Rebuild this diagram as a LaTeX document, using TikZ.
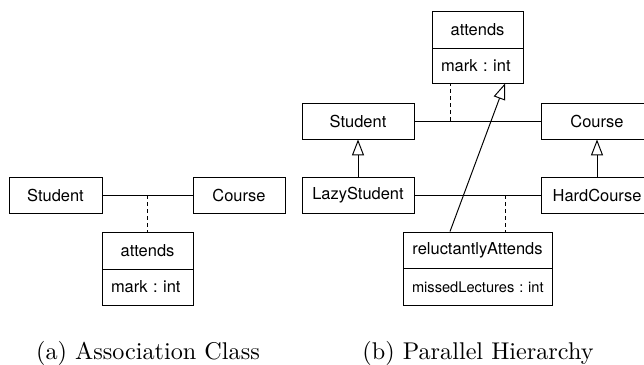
\documentclass[tikz,border=0pt]{standalone}
\usepackage{fontspec}
\newfontfamily\umlfont{TeX Gyre Heros}
\usetikzlibrary{arrows.meta,calc}
\newdimen\px \px=0.4132pt
\begin{document}
\frenchspacing
\begin{tikzpicture}[x=\px, y=-\px,
  cls/.style={draw, inner sep=0pt, font={\umlfont\fontsize{6.8}{8}\selectfont\frenchspacing}, minimum height=36\px},
  attr/.style={cls, align=left, inner xsep=3.72pt},
  smallattr/.style={attr, font={\umlfont\fontsize{6.05}{7.5}\selectfont\frenchspacing}},
  gen/.style={-{Triangle[open,length=6.6pt,width=5pt]}},
  dassoc/.style={dash pattern=on 1.65pt off 1.25pt},
  capt/.style={anchor=base, inner sep=0pt}]
\clip (0,0) rectangle (644,364);
% ---------- (a) ----------
\node[cls, minimum width=93\px] (SA) at (55.5,195) {Student};
\node[cls, minimum width=92\px] (CA) at (239,195) {Course};
\node[cls, minimum width=91\px, minimum height=37\px] (attA) at (147.5,250.5) {attends};
\node[attr, text width=30.16pt] (attAx) at (147.5,287) {\mbox{mark : int}};
\draw (SA.east) -- (CA.west);
\coordinate (ma) at ($(SA.east)!0.5!(CA.west)$);
\draw[dassoc] (ma) -- (attA.north);
\node[capt] (capA) at (148,359) {(a) Association Class};
% ---------- (b) ----------
\node[cls, minimum width=91\px, minimum height=37\px] (attB) at (477.5,29.5) {attends};
\node[attr, text width=30.16pt, minimum height=35\px] (attBx) at (477.5,65.5) {\mbox{mark : int}};
\node[cls, minimum width=112\px] (SB) at (358,121) {Student};
\node[cls, minimum width=112\px] (CB) at (597,121) {Course};
\node[cls, minimum width=112\px] (LSB) at (358,195) {LazyStudent};
\node[cls, minimum width=112\px] (HCB) at (597,195) {HardCourse};
\node[cls, minimum width=149\px] (RA) at (477.5,250) {reluctantlyAttends};
\node[smallattr, text width=54.13pt, minimum height=37\px] (RAx) at (477.5,286.8) {\mbox{missedLectures : int}};
\draw (SB.east) -- (CB.west);
\draw (LSB.east) -- (HCB.west);
\draw[gen] (LSB.north) -- (SB.south);
\draw[gen] (HCB.north) -- (CB.south);
\coordinate (mb1) at (450,121);
\draw[dassoc] (mb1) -- (mb1 |- attBx.south);
\coordinate (mb2) at (505,195);
\draw[dassoc] (mb2) -- (mb2 |- RA.north);
\coordinate (rtop) at (450,232);
\coordinate (abot) at (505,83);
\draw[gen] (rtop |- RA.north) -- (abot |- attBx.south);
\node[capt] (capB) at (478,359) {(b) Parallel Hierarchy};
\end{tikzpicture}
\end{document}
